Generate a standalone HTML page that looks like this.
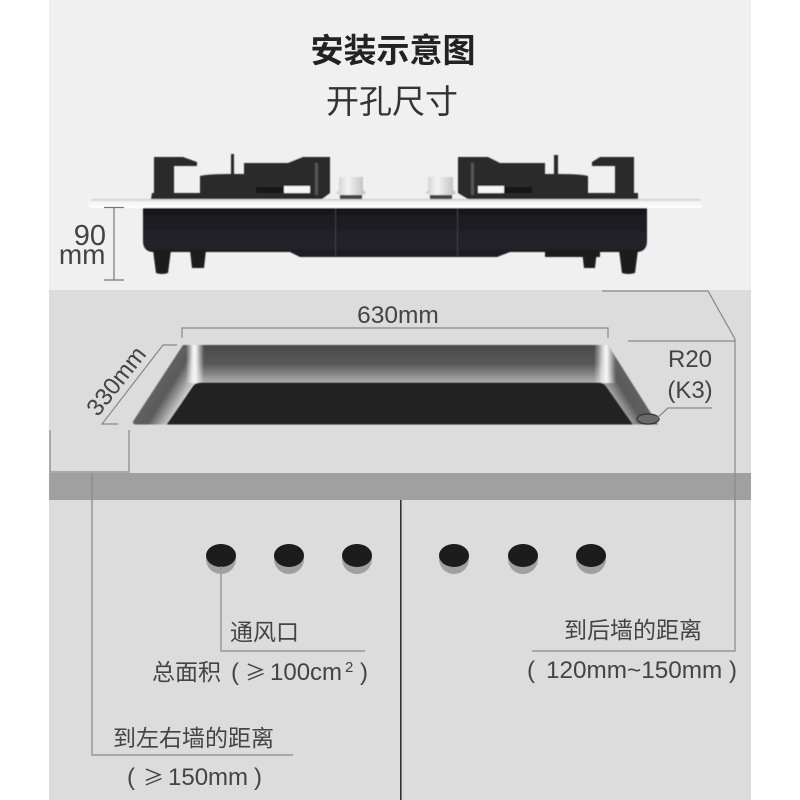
<!DOCTYPE html>
<html lang="zh"><head><meta charset="utf-8"><title>安装示意图</title>
<style>html,body{margin:0;padding:0;background:#fff}svg{display:block}
text{font-family:"Liberation Sans","Noto Sans CJK SC",sans-serif;fill:#444}
.ge{font-family:"Noto Sans CJK SC",sans-serif}</style></head>
<body>
<svg xmlns="http://www.w3.org/2000/svg" width="800" height="800" viewBox="0 0 800 800">
<defs>
<linearGradient id="back" x1="0" y1="0" x2="0" y2="1"><stop offset="0" stop-color="#4a4a4a"/><stop offset=".5" stop-color="#585858"/><stop offset="1" stop-color="#b0b0b0"/></linearGradient>
<linearGradient id="cl" gradientUnits="userSpaceOnUse" x1="186" y1="0" x2="204" y2="0"><stop offset="0" stop-color="#f2f2f2" stop-opacity="0"/><stop offset=".4" stop-color="#f2f2f2"/><stop offset=".55" stop-color="#f2f2f2"/><stop offset="1" stop-color="#f2f2f2" stop-opacity="0"/></linearGradient>
<linearGradient id="cr" gradientUnits="userSpaceOnUse" x1="594" y1="0" x2="616" y2="0"><stop offset="0" stop-color="#f2f2f2" stop-opacity="0"/><stop offset=".5" stop-color="#f2f2f2"/><stop offset=".6" stop-color="#f2f2f2"/><stop offset="1" stop-color="#f2f2f2" stop-opacity="0"/></linearGradient>
<linearGradient id="wl" gradientUnits="userSpaceOnUse" x1="158" y1="385" x2="182" y2="400"><stop offset="0" stop-color="#606060"/><stop offset=".4" stop-color="#5a5a5a"/><stop offset="1" stop-color="#c8c8c8"/></linearGradient>
<linearGradient id="wr" gradientUnits="userSpaceOnUse" x1="633" y1="385" x2="609" y2="400"><stop offset="0" stop-color="#606060"/><stop offset=".4" stop-color="#5a5a5a"/><stop offset="1" stop-color="#c8c8c8"/></linearGradient>
<linearGradient id="plate" x1="0" y1="0" x2="0" y2="1"><stop offset="0" stop-color="#c4c4c4"/><stop offset=".3" stop-color="#f4f4f4"/><stop offset="1" stop-color="#fff"/></linearGradient>
<linearGradient id="knob" x1="0" y1="0" x2="1" y2="0"><stop offset="0" stop-color="#ccc"/><stop offset=".4" stop-color="#f4f4f4"/><stop offset="1" stop-color="#bbb"/></linearGradient>
<linearGradient id="body" x1="0" y1="0" x2="0" y2="1"><stop offset="0" stop-color="#17171c"/><stop offset=".7" stop-color="#24242a"/><stop offset="1" stop-color="#1b1b20"/></linearGradient>
<filter id="soft" x="-2%" y="-5%" width="104%" height="110%"><feGaussianBlur stdDeviation="0.5"/></filter>
<clipPath id="cavL"><path d="M183 345H210V383H193L167 424.500H136Q131 424 134 420Z"/></clipPath>
<clipPath id="cavR"><path d="M608 345L658 424.500H633L603 383H590V345Z"/></clipPath>
</defs>

<rect x="49" y="0" width="702" height="290" fill="#f0f0f0"/>
<rect x="49" y="290" width="702" height="183" fill="#dcdcdc"/>
<rect x="49" y="473" width="702" height="27" fill="#a0a0a0"/>
<rect x="49" y="500" width="702" height="300" fill="#dcdcdc"/>
<rect x="400" y="500" width="1.600" height="300" fill="#333"/>

<text x="393" y="62" font-size="33" font-weight="700" text-anchor="middle" style="fill:#222">安装示意图</text>
<text x="392" y="113" font-size="33" text-anchor="middle" style="fill:#333">开孔尺寸</text>

<g filter="url(#soft)">
<!-- hob body -->
<path d="M143 208H647V241Q647 252 636 252H510L497 257H300L290 252H154Q143 252 143 241Z" fill="url(#body)"/>
<rect x="335" y="208" width="1" height="48" fill="#3c3c40"/><rect x="457" y="208" width="1" height="48" fill="#3c3c40"/>
<path d="M153 250H171L168 273Q162 275 156 273Z" fill="#1c1c1c"/><path d="M190 250H206L204 268H192Z" fill="#1c1c1c"/>
<path d="M619 250H638L635 273Q628 275 622 273Z" fill="#1c1c1c"/><path d="M582 250H597L595 268H584Z" fill="#1c1c1c"/>
<rect x="545" y="251" width="55" height="6" fill="#1c1c1c"/>
<path d="M88 204L92 199H700L702 204V208H90Z" fill="url(#plate)"/>

<!-- left grate/burner -->
<path d="M154 157H183L197 162V166H174V193H200V176Q208 174 231 174V154H234V174H244V163H288L303 157H330V193L322 199H151L152 193H154Z" fill="#2b2b2b"/>
<rect x="284" y="186" width="26" height="7" fill="#f6f6f6"/><rect x="256" y="187" width="28" height="6" fill="#151515"/>
<rect x="315" y="163" width="3" height="32" fill="#555"/>
<path d="M339 177H363V190L366 193L362 195V199H340V195L336 193L339 190Z" fill="url(#knob)"/><rect x="340" y="195" width="22" height="4" fill="#444"/>

<!-- right grate/burner -->
<path d="M634 157H600L592 162V166H615V193H588V176Q580 174 558 174V155H554V174H545V163H500L488 157H458V193L468 199H638V193H634Z" fill="#2b2b2b"/>
<rect x="478" y="186" width="26" height="7" fill="#f6f6f6"/><rect x="504" y="187" width="28" height="6" fill="#151515"/>
<rect x="471" y="163" width="3" height="32" fill="#555"/>
<path d="M428 177H453V190L456 193L452 195V199H430V195L425 193L428 190Z" fill="url(#knob)"/><rect x="430" y="195" width="22" height="4" fill="#444"/>
</g>

<!-- 90 mm -->
<path d="M104 207.500H124M114 207.500V280M104 280H124" stroke="#777" stroke-width="1.200" fill="none"/>
<text x="106" y="245" font-size="29" text-anchor="end">90</text>
<text x="105.500" y="264" font-size="28" text-anchor="end">mm</text>

<!-- cutout -->
<g filter="url(#soft)">
<rect x="190" y="345" width="416" height="38" fill="url(#back)"/>
<path d="M183 345H196V380L167 424.500H136Q131 424 134 420Z" fill="url(#wl)"/>
<path d="M608 345L658 424.500H633L600 380V345Z" fill="url(#wr)"/>
<g clip-path="url(#cavL)"><rect x="186" y="345" width="18" height="38" fill="url(#cl)"/></g>
<g clip-path="url(#cavR)"><rect x="594" y="345" width="22" height="38" fill="url(#cr)"/></g>
<path d="M201 382.500H599Q603 382.500 606 386L633 424.500H166.500L193 386Q196 382.500 201 382.500Z" fill="#202020"/>
</g>
<ellipse cx="648" cy="419" rx="11" ry="5" fill="#6a6a6a" stroke="#333" stroke-width="1.200"/>

<!-- dimension lines -->
<g stroke="#888" stroke-width="1.200" fill="none">
<path d="M182 338V328H608V338"/>
<path d="M177 345H163L102 424H118"/>
<path d="M50 430V472H129V430"/>
<path d="M92 473V755H293"/>
<path d="M602 291H708L735 339V651H532"/>
<path d="M628 341H735"/>
<path d="M657 418L668 408H712"/>
<path d="M221 566V651H365"/>
</g>

<!-- vents -->
<g fill="#a0a0a0"><circle cx="221" cy="559" r="15"/><circle cx="289" cy="559" r="15"/><circle cx="357" cy="559" r="15"/><circle cx="454" cy="559" r="15"/><circle cx="523" cy="559" r="15"/><circle cx="591" cy="559" r="15"/></g>
<g fill="#1c1c1c"><ellipse cx="221" cy="555.500" rx="15" ry="11.500"/><ellipse cx="289" cy="555.500" rx="15" ry="11.500"/><ellipse cx="357" cy="555.500" rx="15" ry="11.500"/><ellipse cx="454" cy="555.500" rx="15" ry="11.500"/><ellipse cx="523" cy="555.500" rx="15" ry="11.500"/><ellipse cx="591" cy="555.500" rx="15" ry="11.500"/></g>
<path d="M221 566V570" stroke="#888" stroke-width="1.200"/>

<!-- labels -->
<text x="398" y="323" font-size="24.500" text-anchor="middle">630mm</text>
<text transform="translate(122.500,386) rotate(-52)" font-size="24" text-anchor="middle">330mm</text>
<text x="690" y="367" font-size="24" text-anchor="middle">R20</text>
<text x="690" y="398" font-size="24" text-anchor="middle">(K3)</text>
<text x="230" y="640" font-size="23">通风口</text>
<text x="152" y="680" font-size="23">总面积</text>
<text x="231" y="680" font-size="24">(</text>
<text x="245" y="680" font-size="21" class="ge">≥</text>
<text x="270" y="680" font-size="24">100cm</text>
<text x="345" y="672" font-size="15">2</text>
<text x="360" y="680" font-size="24">)</text>
<text x="113" y="746" font-size="23">到左右墙的距离</text>
<text x="127" y="785" font-size="24">(</text>
<text x="143" y="785" font-size="21" class="ge">≥</text>
<text x="168" y="785" font-size="24">150mm</text>
<text x="254" y="785" font-size="24">)</text>
<text x="564" y="638" font-size="23">到后墙的距离</text>
<text x="527" y="678" font-size="24">(</text>
<text x="546" y="678" font-size="24.300">120mm~150mm</text>
<text x="729" y="678" font-size="24">)</text>
</svg>
</body></html>
